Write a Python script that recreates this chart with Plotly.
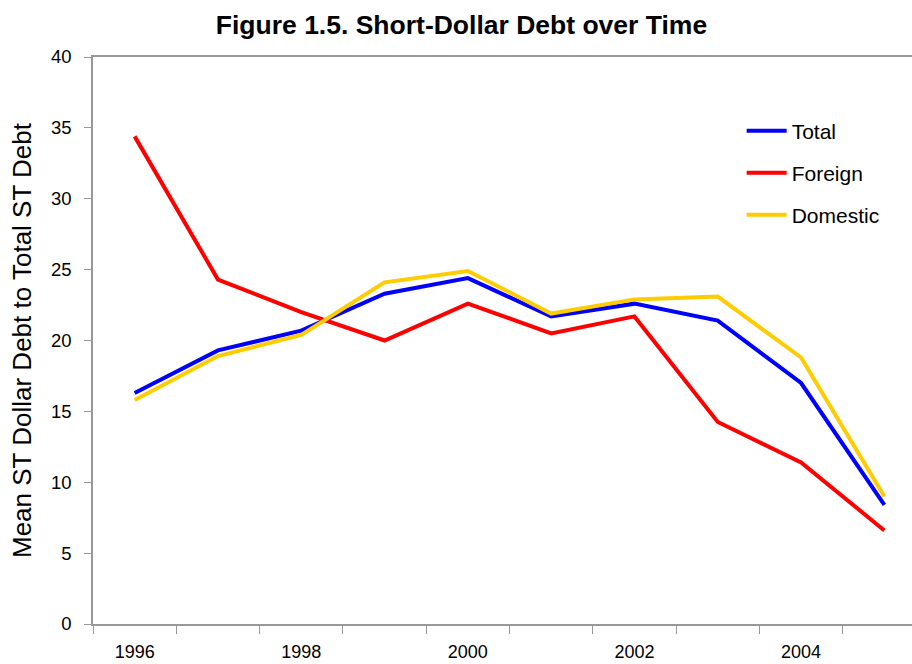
import plotly.graph_objects as go

years = [1996, 1997, 1998, 1999, 2000, 2001, 2002, 2003, 2004, 2005]
total = [16.3, 19.3, 20.7, 23.3, 24.4, 21.7, 22.6, 21.4, 17.0, 8.4]
foreign = [34.4, 24.3, 22.0, 20.0, 22.6, 20.5, 21.7, 14.25, 11.4, 6.6]
domestic = [15.8, 18.9, 20.4, 24.1, 24.9, 21.9, 22.9, 23.1, 18.8, 9.0]
xtick_labels = [1996, 1998, 2000, 2002, 2004]
ytick_vals = [0, 5, 10, 15, 20, 25, 30, 35, 40]

FONT = "Arial, Liberation Sans, sans-serif"

fig = go.Figure()
fig.add_trace(go.Scatter(x=years, y=total, mode="lines", name="Total",
                         line=dict(color="#0000FF", width=4), legend="legend"))
fig.add_trace(go.Scatter(x=years, y=foreign, mode="lines", name="Foreign",
                         line=dict(color="#FF0000", width=4), legend="legend2"))
fig.add_trace(go.Scatter(x=years, y=domestic, mode="lines", name="Domestic",
                         line=dict(color="#FFCC00", width=4), legend="legend3"))

def leg(yc):
    return dict(x=0.792, y=(624 - yc) / 567, xanchor="left", yanchor="middle",
                bgcolor="rgba(0,0,0,0)", font=dict(size=21, family=FONT),
                itemwidth=40)

fig.update_layout(
    width=912, height=664,
    margin=dict(l=93, r=0, t=57, b=40),
    paper_bgcolor="white", plot_bgcolor="white",
    font=dict(family=FONT, size=18, color="black"),
    title=dict(text="<b>Figure 1.5. Short-Dollar Debt over Time</b>",
               x=0.506, xanchor="center", y=1 - 25 / 664, yanchor="middle",
               font=dict(size=26.5, family=FONT)),
    showlegend=True,
    legend=leg(131), legend2=leg(173), legend3=leg(215),
)

fig.update_xaxes(
    range=[1995.5, 1995.5 + (912 - 93) / 83.3],
    tickmode="array", tickvals=xtick_labels, ticktext=[str(v) for v in xtick_labels],
    ticks="", showgrid=False, zeroline=False, automargin=False,
    showline=True, linecolor="#999999", linewidth=1.5, mirror=True,
    ticklabelstandoff=11,
    minor=dict(tick0=1995.5, dtick=1, ticks="outside", ticklen=8,
               tickcolor="#999999", tickwidth=1, showgrid=False),
    tickfont=dict(size=18),
)
fig.update_yaxes(
    range=[0, 40], tickmode="array", tickvals=ytick_vals,
    ticks="outside", ticklen=7, tickcolor="#999999", tickwidth=1,
    showgrid=False, zeroline=False, automargin=False,
    showline=True, linecolor="#999999", linewidth=1.5,
    ticklabelstandoff=9,
    tickfont=dict(size=18.5),
    title=dict(text="Mean ST Dollar Debt to Total ST Debt",
               font=dict(size=26), standoff=12),
)

fig.write_html("out.html", config={"displayModeBar": False},
               post_script="document.body.style.margin='0px';document.body.style.padding='0px';")
